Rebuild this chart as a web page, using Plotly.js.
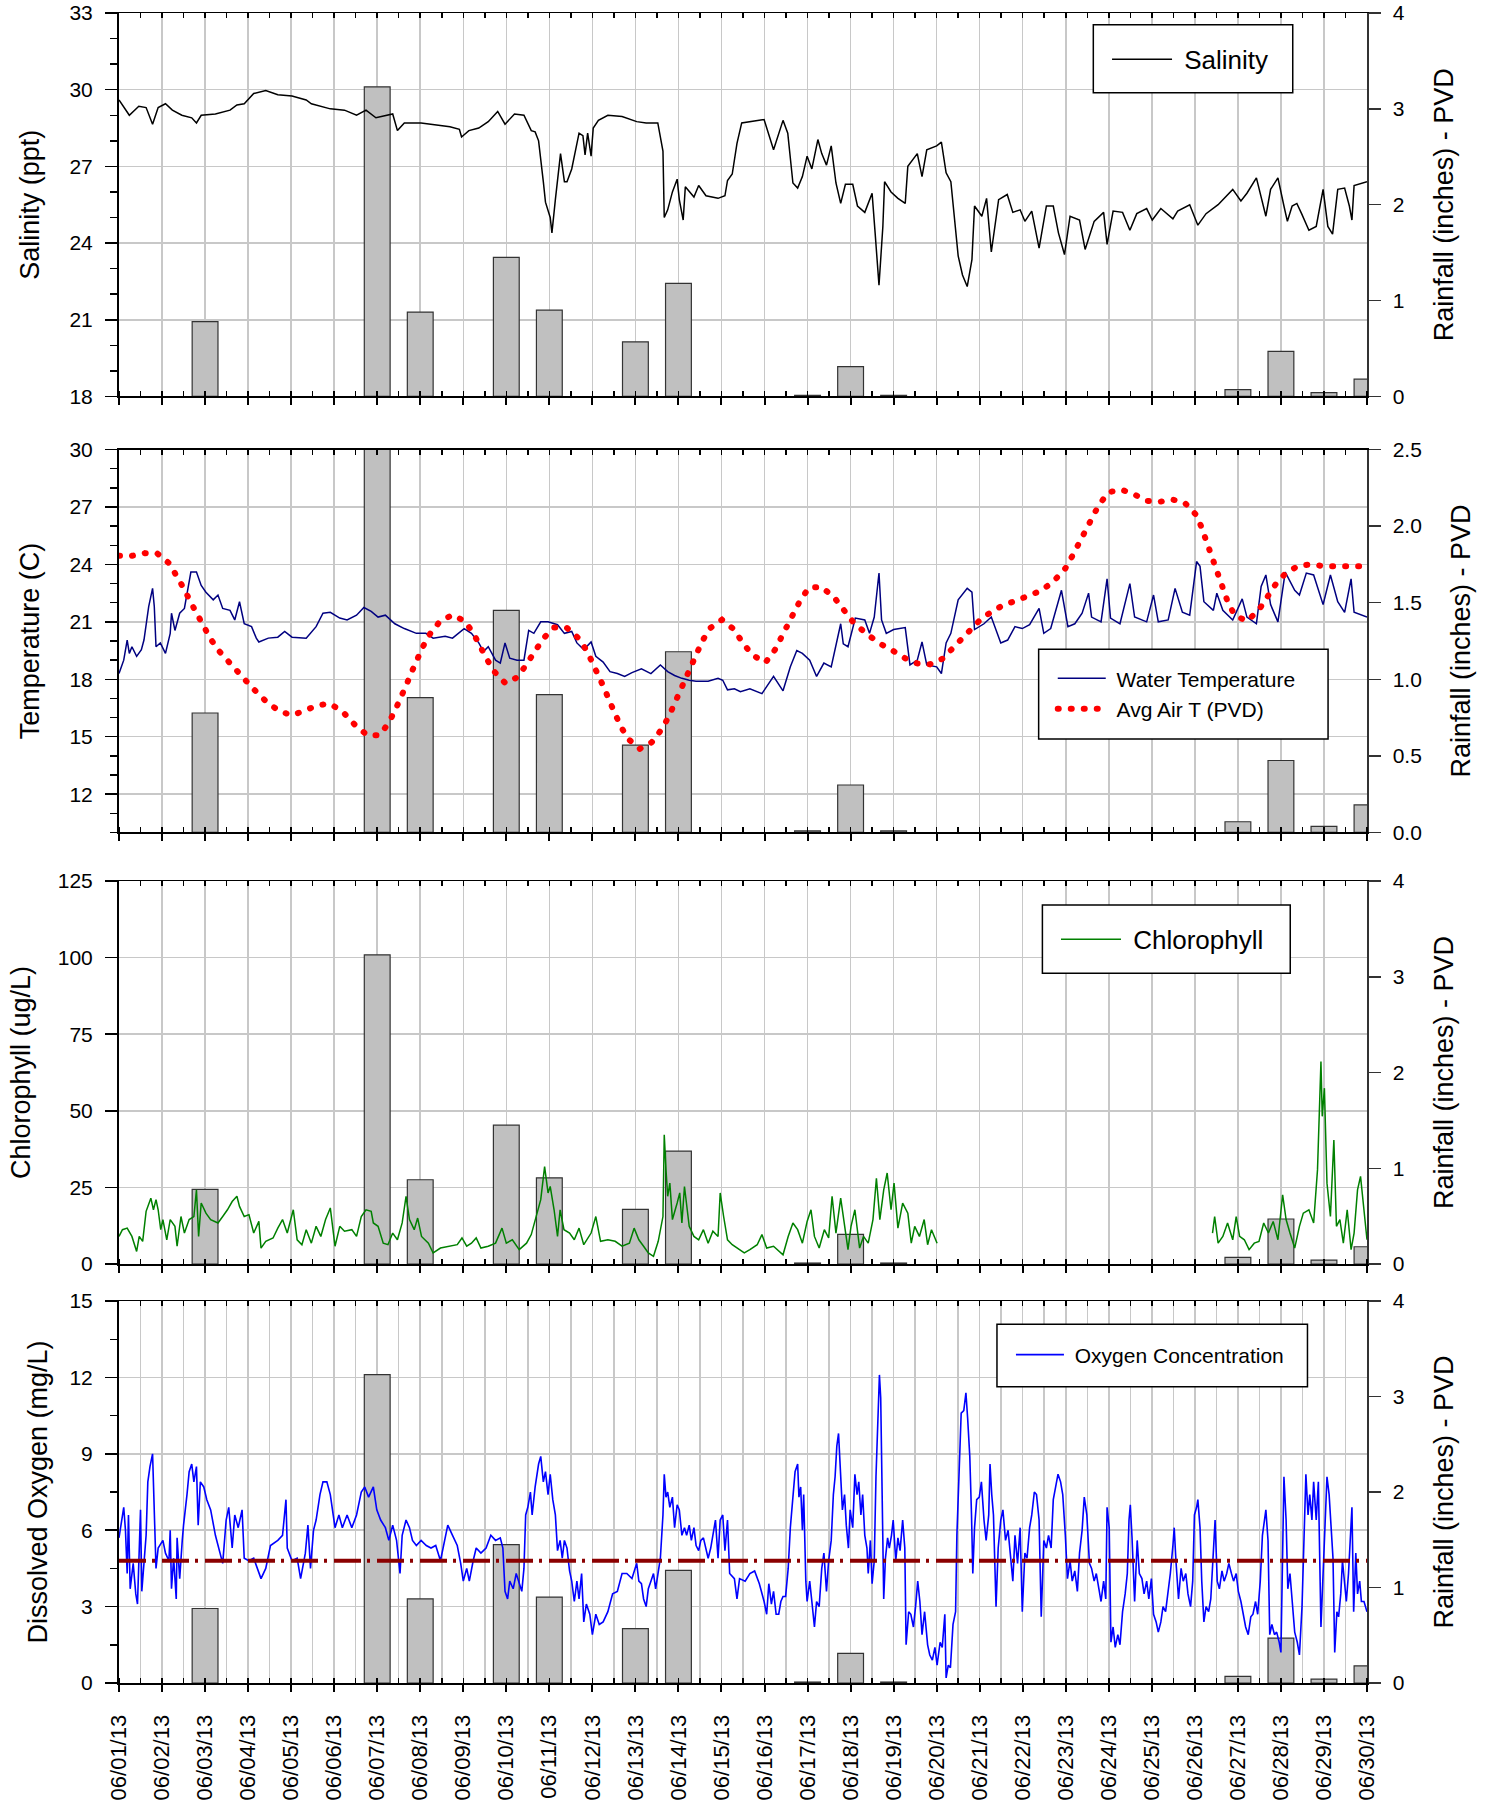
<!DOCTYPE html>
<html>
<head>
<meta charset="utf-8">
<script src="https://cdn.plot.ly/plotly-3.0.1.min.js"></script>
<style>
html,body{margin:0;padding:0;background:#fff;}
#chart{width:1489px;height:1807px;}
path.js-line[style*="rgb(255, 0, 0)"]{stroke-linecap:round !important;}
</style>
</head>
<body>
<div id="chart"></div>
<script>
// ---------------- DATA (days counted from 06/01/2013 00:00) ----------------
const rainDates = ['2013-06-03','2013-06-07','2013-06-08','2013-06-10','2013-06-11','2013-06-13','2013-06-14','2013-06-17','2013-06-18','2013-06-19','2013-06-27','2013-06-28','2013-06-29','2013-06-30'];
const rainInches = [0.78,3.23,0.88,1.45,0.90,0.57,1.18,0.01,0.31,0.01,0.07,0.47,0.04,0.18];

const salDay = [0,0.24,0.46,0.63,0.78,0.91,1.08,1.24,1.46,1.69,1.80,1.91,2.24,2.58,2.74,2.91,3.13,3.41,3.69,4.02,4.35,4.47,4.91,5.24,5.52,5.74,5.97,6.13,6.36,6.47,6.63,7.02,7.25,7.69,7.91,7.96,8.13,8.36,8.58,8.80,8.97,9.19,9.41,9.58,9.67,9.75,9.86,9.91,10.02,10.06,10.14,10.22,10.26,10.35,10.41,10.52,10.69,10.78,10.83,10.89,10.97,11.02,11.14,11.36,11.69,12.03,12.25,12.52,12.64,12.67,12.75,12.86,12.97,13.02,13.11,13.16,13.36,13.47,13.64,13.92,14.08,14.14,14.25,14.36,14.47,14.99,15.21,15.43,15.54,15.66,15.77,15.88,15.99,16.10,16.24,16.33,16.44,16.55,16.66,16.77,16.88,17.05,17.16,17.33,17.50,17.57,17.66,17.75,17.79,17.94,18.10,18.27,18.33,18.55,18.66,18.77,19.00,19.11,19.22,19.33,19.50,19.60,19.71,19.82,19.88,20.05,20.16,20.27,20.44,20.64,20.77,20.94,21.05,21.21,21.38,21.55,21.71,21.83,21.97,22.10,22.32,22.45,22.66,22.88,22.96,23.10,23.32,23.49,23.65,23.88,24.01,24.21,24.49,24.60,24.88,25.07,25.26,25.54,25.88,26.07,26.21,26.43,26.65,26.76,26.93,27.07,27.15,27.26,27.37,27.48,27.65,27.82,27.98,28.09,28.20,28.32,28.48,28.59,28.65,28.70,28.87,29.00];
const salPpt = [29.6,29.0,29.35,29.3,28.65,29.3,29.45,29.2,29.0,28.9,28.7,29.0,29.05,29.2,29.4,29.45,29.85,29.97,29.8,29.75,29.6,29.45,29.25,29.2,29.0,29.2,28.9,28.95,29.05,28.4,28.7,28.7,28.65,28.55,28.45,28.15,28.4,28.5,28.75,29.15,28.65,29.05,29.0,28.4,28.35,28.0,26.4,25.6,25.0,24.4,25.7,27.1,27.5,26.4,26.4,26.9,28.3,28.2,27.45,28.3,27.4,28.5,28.8,29.0,28.95,28.75,28.7,28.7,27.6,25.0,25.3,26.0,26.5,25.7,24.9,26.2,25.8,26.25,25.85,25.75,25.85,26.45,26.7,27.9,28.7,28.83,27.65,28.8,28.3,26.35,26.15,26.6,27.4,26.9,28.05,27.5,27.05,27.8,26.35,25.55,26.3,26.3,25.45,25.2,25.95,24.4,22.35,24.65,26.4,26.0,25.75,25.55,27.0,27.5,26.6,27.65,27.8,27.95,26.75,26.4,23.5,22.75,22.3,23.35,25.45,25.05,25.75,23.65,25.7,25.9,25.2,25.3,24.85,25.25,23.8,25.45,25.45,24.4,23.55,25.05,24.9,23.75,24.85,25.2,23.95,25.25,25.2,24.5,25.15,25.35,24.9,25.35,24.95,25.25,25.5,24.7,25.15,25.5,26.1,25.65,25.95,26.55,25.05,26.1,26.55,25.45,24.85,25.45,25.55,25.15,24.5,24.65,26.1,24.65,24.35,26.1,26.15,25.45,24.9,26.25,26.35,26.4];

const wtDay = [0,0.11,0.19,0.24,0.30,0.41,0.52,0.58,0.69,0.78,0.82,0.86,0.96,1.08,1.19,1.22,1.30,1.41,1.52,1.58,1.67,1.80,1.91,2.02,2.19,2.30,2.41,2.58,2.69,2.80,2.91,3.08,3.19,3.25,3.47,3.69,3.85,4.02,4.35,4.58,4.74,4.91,5.13,5.30,5.52,5.69,5.86,6.02,6.19,6.41,6.63,6.91,7.13,7.30,7.58,7.75,8.02,8.19,8.36,8.47,8.58,8.75,8.86,8.97,9.08,9.25,9.41,9.52,9.64,9.80,9.97,10.19,10.35,10.52,10.64,10.80,10.97,11.08,11.25,11.41,11.58,11.75,11.92,12.14,12.36,12.58,12.75,12.91,13.08,13.25,13.41,13.69,13.92,14.03,14.14,14.30,14.44,14.66,14.94,15.21,15.43,15.60,15.75,15.88,16.05,16.21,16.38,16.55,16.66,16.77,16.83,16.94,17.11,17.33,17.44,17.55,17.66,17.72,17.83,18.00,18.27,18.38,18.55,18.66,18.77,19.00,19.11,19.22,19.33,19.50,19.71,19.82,19.88,20.10,20.27,20.49,20.65,20.82,20.99,21.16,21.38,21.49,21.65,21.77,21.90,22.05,22.21,22.38,22.53,22.60,22.82,22.96,23.04,23.26,23.49,23.60,23.88,24.04,24.15,24.38,24.54,24.71,24.88,25.04,25.12,25.21,25.43,25.51,25.65,25.88,26.10,26.21,26.43,26.54,26.65,26.76,26.93,27.10,27.32,27.43,27.59,27.76,27.98,28.15,28.32,28.48,28.63,28.70,29.00];
const wtC = [18.3,19.0,20.05,19.35,19.7,19.2,19.55,20.05,21.8,22.75,21.8,19.7,19.9,19.35,20.4,21.45,20.55,21.45,21.7,22.5,23.6,23.6,22.9,22.55,22.15,22.4,21.7,21.6,21.1,22.05,20.9,20.75,20.15,19.95,20.15,20.2,20.5,20.2,20.15,20.75,21.45,21.5,21.2,21.1,21.35,21.75,21.55,21.25,21.35,20.9,20.65,20.4,20.4,20.15,20.25,20.15,20.65,20.4,19.9,19.45,19.7,19.0,18.85,19.9,19.1,19.0,19.0,20.55,20.4,21.0,21.0,20.85,20.4,20.5,19.9,19.55,19.95,19.2,18.9,18.4,18.3,18.15,18.35,18.55,18.3,18.75,18.4,18.2,18.05,17.95,17.9,17.9,18.05,17.95,17.45,17.5,17.35,17.5,17.25,18.15,17.4,18.65,19.5,19.35,19.0,18.15,18.85,18.65,19.7,20.9,19.85,19.7,21.2,21.1,20.4,21.25,23.55,21.1,20.4,20.6,20.7,18.75,19.0,19.95,18.75,18.65,18.3,19.9,20.4,22.15,22.75,22.55,20.6,20.9,21.25,19.9,20.05,20.75,20.65,20.85,21.7,20.4,20.65,21.6,22.65,20.75,20.9,21.45,22.5,21.25,21.0,23.25,21.2,20.9,23.0,21.25,21.0,22.4,21.0,21.1,22.75,21.5,21.35,24.15,23.9,22.05,21.6,22.5,21.6,21.1,22.2,21.25,20.9,22.85,23.45,21.9,21.0,23.6,22.65,22.4,23.55,23.45,21.9,23.45,22.05,21.5,23.25,21.5,21.25];

const airDay = [0,0.30,0.60,0.89,1.17,1.35,1.51,1.65,1.80,1.96,2.13,2.34,2.59,2.87,3.14,3.43,3.73,4.02,4.32,4.61,4.90,5.20,5.47,5.77,6.06,6.27,6.42,6.56,6.68,6.80,6.92,7.06,7.23,7.46,7.75,8.04,8.24,8.39,8.55,8.73,8.98,9.27,9.48,9.66,9.85,10.10,10.40,10.67,10.87,11.02,11.16,11.28,11.40,11.54,11.66,11.84,12.10,12.38,12.60,12.77,12.90,13.03,13.15,13.27,13.42,13.55,13.73,14.01,14.30,14.48,14.72,15.02,15.24,15.39,15.54,15.67,15.83,16.03,16.32,16.61,16.84,17.07,17.37,17.67,17.97,18.26,18.55,18.84,19.14,19.41,19.69,19.98,20.27,20.56,20.86,21.15,21.44,21.73,21.99,22.16,22.31,22.45,22.61,22.77,23.00,23.29,23.58,23.88,24.18,24.48,24.76,25.02,25.15,25.26,25.37,25.46,25.55,25.66,25.77,25.93,26.21,26.48,26.68,26.87,27.12,27.41,27.70,27.99,28.28,28.58,28.87,29.00];
const airC = [24.45,24.45,24.59,24.57,24.05,23.41,22.73,22.09,21.43,20.75,20.10,19.44,18.77,18.12,17.46,16.82,16.33,16.12,16.37,16.64,16.73,16.30,15.65,15.08,15.08,15.74,16.40,17.06,17.72,18.38,19.04,19.70,20.38,21.03,21.36,21.03,20.38,19.70,19.04,18.38,17.79,18.12,18.78,19.44,20.10,20.70,20.70,20.16,19.50,18.83,18.17,17.51,16.85,16.19,15.53,14.87,14.37,14.71,15.36,16.03,16.70,17.36,18.02,18.68,19.32,19.98,20.66,21.11,20.59,19.94,19.27,18.87,19.53,20.16,20.82,21.48,22.12,22.78,22.83,22.30,21.62,20.96,20.38,19.88,19.51,19.11,18.83,18.78,19.08,19.72,20.38,21.03,21.53,21.88,22.12,22.35,22.64,23.15,23.79,24.47,25.13,25.79,26.45,27.11,27.77,27.91,27.67,27.32,27.27,27.39,27.23,26.61,25.97,25.30,24.64,23.98,23.32,22.66,22.00,21.34,21.04,21.60,22.28,22.94,23.57,23.93,24.00,23.91,23.90,23.90,23.90,23.90];

const chlDay = [0,0.08,0.19,0.30,0.41,0.47,0.55,0.63,0.74,0.80,0.86,0.91,0.97,1.02,1.11,1.19,1.30,1.35,1.44,1.52,1.63,1.74,1.80,1.85,1.91,2.02,2.13,2.30,2.41,2.52,2.63,2.74,2.80,2.91,3.02,3.13,3.25,3.30,3.41,3.58,3.69,3.80,3.91,4.05,4.14,4.25,4.35,4.47,4.58,4.69,4.80,4.91,5.02,5.13,5.24,5.41,5.52,5.63,5.74,5.86,5.91,6.02,6.14,6.25,6.36,6.47,6.58,6.67,6.75,6.86,6.94,7.03,7.19,7.30,7.47,7.69,7.86,7.97,8.08,8.19,8.30,8.41,8.58,8.75,8.90,9.00,9.14,9.30,9.47,9.58,9.69,9.80,9.89,9.97,10.02,10.11,10.19,10.25,10.34,10.47,10.58,10.69,10.80,10.97,11.08,11.19,11.36,11.53,11.69,11.86,11.97,12.08,12.19,12.30,12.42,12.53,12.64,12.67,12.71,12.75,12.80,12.86,12.97,13.03,13.08,13.14,13.25,13.36,13.47,13.58,13.69,13.80,13.92,13.97,14.05,14.14,14.25,14.42,14.53,14.66,14.83,14.94,15.05,15.21,15.43,15.55,15.66,15.77,15.88,15.99,16.08,16.16,16.27,16.39,16.49,16.57,16.66,16.77,16.86,16.94,17.01,17.10,17.21,17.30,17.41,17.52,17.60,17.68,17.77,17.85,17.94,18.01,18.10,18.21,18.33,18.41,18.49,18.60,18.71,18.79,18.88,18.99,19.01,22.00,25.41,25.46,25.54,25.65,25.76,25.88,25.96,26.04,26.15,26.26,26.38,26.49,26.60,26.71,26.82,26.93,27.04,27.12,27.21,27.32,27.43,27.52,27.65,27.76,27.85,27.93,27.96,28.01,28.07,28.15,28.23,28.29,28.37,28.45,28.54,28.63,28.70,28.78,28.85,28.93,29.00];
const chlUgL = [9.0,11.2,11.7,9.0,4.1,9.0,7.4,17.2,21.5,17.7,21.0,17.7,11.2,14.5,7.9,14.5,12.3,5.8,15.5,10.1,14.5,15.5,24.2,9.0,19.9,16.6,14.5,13.4,15.5,17.7,20.4,22.1,18.8,15.5,16.1,10.1,13.9,5.2,7.4,8.5,11.7,14.5,10.1,17.7,7.9,6.3,11.2,6.8,12.3,9.0,14.5,18.3,5.8,12.3,10.7,11.2,9.0,15.5,17.7,17.2,13.4,12.3,6.8,6.3,10.1,7.9,13.4,22.1,14.5,11.2,15.0,9.0,6.8,3.6,5.2,5.8,6.3,8.5,5.8,6.8,8.5,5.2,5.8,6.8,11.7,6.8,7.9,4.7,6.8,9.6,15.0,21.0,31.8,23.2,25.3,17.7,9.0,17.7,11.2,10.1,7.9,11.7,6.3,10.1,15.5,7.4,7.9,7.4,5.8,6.8,11.7,7.9,5.8,3.6,2.5,7.4,15.5,42.2,30.8,22.1,26.4,14.5,19.9,23.2,13.4,25.3,12.3,9.0,7.9,11.2,6.8,10.7,9.0,23.2,15.5,7.9,6.3,4.7,3.6,4.7,6.3,9.6,5.2,5.8,3.0,9.0,13.4,11.2,6.8,13.9,17.7,9.0,5.2,11.2,8.5,22.1,10.1,21.5,13.4,4.7,12.3,17.7,5.2,9.0,6.8,14.5,28.0,14.5,24.2,29.7,17.7,26.4,11.7,19.9,16.6,6.8,12.3,9.0,14.5,6.3,11.2,7.9,6.8,null,10.1,15.5,6.8,9.0,13.4,7.9,15.5,9.0,7.9,4.7,6.8,7.4,13.4,10.1,13.9,7.9,22.6,14.5,10.1,5.2,12.3,16.6,17.7,13.4,30.8,66.1,48.2,57.4,26.4,15.5,40.5,12.3,14.5,6.8,17.7,4.7,10.1,24.2,28.6,17.7,7.9];

const doDay = [0,0.04,0.11,0.15,0.19,0.22,0.26,0.33,0.39,0.43,0.46,0.50,0.53,0.58,0.63,0.67,0.72,0.78,0.82,0.86,0.91,1.02,1.08,1.16,1.19,1.22,1.27,1.33,1.35,1.41,1.47,1.50,1.58,1.63,1.69,1.74,1.80,1.84,1.89,1.97,2.04,2.13,2.24,2.35,2.41,2.49,2.55,2.63,2.69,2.77,2.86,2.91,3.02,3.13,3.30,3.41,3.52,3.69,3.80,3.88,3.91,4.02,4.14,4.22,4.33,4.39,4.45,4.52,4.58,4.67,4.74,4.83,4.91,5.02,5.11,5.19,5.30,5.41,5.52,5.63,5.71,5.80,5.91,5.99,6.08,6.19,6.27,6.36,6.45,6.53,6.58,6.67,6.75,6.82,6.91,7.02,7.14,7.25,7.36,7.47,7.58,7.64,7.75,7.86,7.94,8.00,8.08,8.14,8.23,8.30,8.41,8.53,8.64,8.75,8.86,8.92,8.97,9.03,9.08,9.16,9.23,9.30,9.36,9.41,9.45,9.50,9.56,9.60,9.67,9.75,9.80,9.86,9.91,9.97,10.02,10.08,10.14,10.19,10.25,10.30,10.35,10.41,10.47,10.52,10.58,10.64,10.69,10.75,10.80,10.86,10.94,11.00,11.08,11.16,11.25,11.36,11.47,11.58,11.69,11.80,11.92,12.03,12.08,12.14,12.19,12.25,12.30,12.36,12.42,12.47,12.53,12.58,12.64,12.67,12.71,12.75,12.80,12.86,12.91,12.97,13.02,13.08,13.14,13.19,13.25,13.30,13.36,13.41,13.47,13.52,13.58,13.64,13.69,13.75,13.80,13.86,13.92,13.97,14.03,14.08,14.14,14.19,14.30,14.36,14.42,14.55,14.66,14.77,14.88,14.99,15.05,15.10,15.16,15.21,15.27,15.33,15.38,15.43,15.49,15.55,15.60,15.66,15.71,15.77,15.80,15.84,15.88,15.91,15.96,15.99,16.05,16.10,16.16,16.21,16.27,16.33,16.38,16.44,16.49,16.55,16.60,16.64,16.68,16.72,16.77,16.81,16.86,16.90,16.95,16.99,17.05,17.10,17.15,17.19,17.24,17.28,17.33,17.38,17.41,17.46,17.50,17.55,17.59,17.64,17.67,17.70,17.74,17.77,17.81,17.86,17.90,17.95,17.99,18.05,18.10,18.15,18.21,18.26,18.29,18.35,18.40,18.46,18.51,18.56,18.61,18.66,18.72,18.79,18.84,18.90,18.96,19.01,19.08,19.13,19.19,19.22,19.27,19.32,19.38,19.44,19.47,19.52,19.57,19.63,19.68,19.72,19.77,19.81,19.84,19.88,19.93,19.99,20.04,20.10,20.15,20.21,20.24,20.28,20.32,20.38,20.43,20.49,20.54,20.60,20.66,20.71,20.77,20.82,20.88,20.94,20.99,21.05,21.10,21.16,21.21,21.27,21.32,21.38,21.43,21.49,21.55,21.60,21.66,21.71,21.77,21.82,21.88,21.93,21.99,22.04,22.10,22.15,22.21,22.27,22.32,22.38,22.43,22.49,22.55,22.60,22.66,22.71,22.77,22.82,22.88,22.93,22.96,23.01,23.05,23.10,23.15,23.21,23.26,23.32,23.38,23.43,23.47,23.50,23.54,23.60,23.66,23.71,23.77,23.82,23.88,23.93,23.99,24.04,24.10,24.15,24.21,24.26,24.32,24.38,24.43,24.49,24.52,24.56,24.62,24.68,24.73,24.79,24.84,24.90,24.95,24.99,25.04,25.07,25.12,25.16,25.21,25.26,25.32,25.37,25.43,25.47,25.52,25.57,25.63,25.68,25.74,25.79,25.85,25.90,25.96,26.01,26.07,26.13,26.18,26.24,26.30,26.35,26.41,26.46,26.52,26.57,26.62,26.65,26.70,26.74,26.79,26.85,26.90,26.96,27.00,27.04,27.07,27.12,27.16,27.21,27.27,27.32,27.38,27.43,27.49,27.54,27.58,27.63,27.67,27.72,27.76,27.82,27.87,27.93,27.98,28.04,28.07,28.12,28.16,28.21,28.25,28.30,28.34,28.39,28.43,28.48,28.52,28.57,28.61,28.65,28.69,28.74,28.78,28.83,28.87,28.93,29.00];
const doMgL = [5.7,6.1,6.9,6.0,4.3,6.6,3.7,4.7,3.5,3.1,4.5,6.8,3.6,4.7,5.8,7.9,8.5,9.0,6.6,4.5,5.3,5.6,5.1,4.8,6.0,3.7,4.9,3.3,5.7,4.1,5.6,6.2,7.4,8.3,8.6,7.9,8.5,6.2,7.9,7.7,7.2,6.8,5.8,5.1,4.7,6.4,6.9,5.3,6.6,6.1,6.8,4.9,4.8,4.9,4.1,4.5,5.4,5.6,5.8,7.2,5.3,4.8,4.9,4.1,5.1,6.2,4.5,6.0,6.4,7.4,7.9,7.9,7.4,6.1,6.6,6.1,6.6,6.1,6.6,7.5,7.7,7.3,7.7,6.8,6.4,6.1,5.6,6.2,5.6,4.3,5.8,6.4,6.1,5.6,5.4,5.6,5.4,5.3,5.4,4.8,5.8,6.2,5.8,5.4,4.7,4.0,4.5,4.0,4.8,5.3,5.1,5.3,5.8,5.6,5.7,5.3,3.6,3.3,4.0,3.7,4.3,3.9,3.6,4.5,6.6,6.9,7.5,6.6,7.7,8.6,8.9,7.9,8.3,7.4,8.2,7.2,6.6,5.2,5.6,4.9,5.6,5.3,4.4,4.0,3.2,4.0,3.3,4.3,2.4,3.1,2.7,1.9,2.7,2.3,2.4,2.8,3.5,3.6,4.3,4.3,4.1,4.7,4.0,3.9,3.3,3.0,3.7,4.0,4.3,3.7,4.4,4.9,6.6,8.2,7.3,7.5,6.9,7.3,6.1,7.0,6.8,5.8,6.1,5.8,6.2,5.6,6.1,5.4,5.2,5.6,5.7,5.3,4.9,5.3,5.8,6.4,4.9,6.4,6.6,5.2,6.4,4.3,4.1,3.3,4.1,4.0,4.3,4.4,3.9,3.2,2.7,3.9,3.1,3.6,2.7,2.7,3.2,3.4,3.4,4.5,6.1,7.4,8.3,8.6,7.3,7.7,6.0,7.4,4.0,3.2,4.0,3.2,2.2,3.2,3.0,4.5,5.1,3.6,4.8,5.6,7.4,8.1,9.3,9.8,7.8,6.8,7.4,6.2,5.3,6.8,6.1,8.2,7.4,7.9,6.6,7.4,5.8,5.3,4.3,5.6,3.9,4.8,8.1,10.6,12.1,11.2,6.5,3.3,4.9,5.7,5.3,5.8,6.4,4.8,5.7,5.2,6.4,5.3,1.5,2.8,2.7,2.2,3.0,4.0,3.2,1.9,2.8,1.5,1.1,0.9,1.4,0.7,1.6,1.4,2.7,0.2,0.7,0.6,2.3,2.8,5.8,8.6,10.6,10.7,11.4,10.4,8.9,6.6,4.3,6.1,7.2,7.3,7.9,6.4,5.6,6.6,8.6,7.4,6.6,3.0,5.3,6.4,6.8,5.6,6.0,5.1,4.0,5.8,4.7,6.1,2.8,5.1,4.9,6.1,6.6,7.5,7.4,6.4,2.6,5.6,5.3,5.8,5.3,7.2,7.7,8.2,7.9,7.4,5.8,4.1,4.8,4.0,4.4,3.6,5.1,6.0,7.3,6.6,4.7,4.5,4.0,4.3,3.7,3.2,4.0,3.3,6.9,6.1,1.6,2.2,1.4,1.9,1.5,2.8,3.5,4.3,6.4,7.0,5.7,3.2,5.6,4.3,4.1,3.5,4.0,3.3,4.1,2.7,2.4,2.0,2.4,3.0,2.8,3.6,4.3,5.4,6.1,4.8,3.3,4.5,4.0,4.3,3.5,3.0,4.0,6.6,6.9,7.2,6.1,4.0,2.4,3.0,2.8,3.3,5.2,6.4,4.0,3.7,4.4,4.0,4.3,4.7,4.3,4.0,4.3,3.6,3.2,2.7,2.2,1.9,2.6,2.7,3.2,2.7,4.0,5.8,6.5,6.8,5.6,1.9,2.3,1.9,2.0,1.6,1.2,5.3,8.1,6.4,3.7,4.3,3.2,2.0,1.6,1.1,3.0,5.8,8.2,6.6,7.4,6.4,7.9,6.4,7.9,2.2,4.3,7.4,8.1,7.4,6.4,4.9,1.2,2.8,2.6,3.5,4.8,4.0,3.2,4.3,5.8,6.9,2.8,5.1,3.5,4.0,3.2,3.2,2.8];
const doLimit = 4.8;

// ---------------- helpers ----------------
const DAY = 86400000;
const T0 = Date.UTC(2013, 5, 1);
function toDate(d){ return new Date(T0 + Math.round(d * DAY)).toISOString().slice(0,19).replace('T',' '); }
const xRange = ['2013-06-01 00:00:00', '2013-06-30 00:00:00'];

const FONT = 'Liberation Sans, Arial, Helvetica, sans-serif';
const GRID = '#c8c8c8';
const NB = '\u00a0'; // small gap between legend key and legend text

const panels = [
  {dom:[0.7704,1.0],    left:{range:[18,33], dtick:3, minor:1, title:'Salinity (ppt)', standoff:22},          right:{range:[0,4], dtick:1, fmt:''}},
  {dom:[0.5093,0.7386], left:{range:[10,30], dtick:3, minor:1, title:'Temperature (C)', standoff:22},         right:{range:[0,2.5], dtick:0.5, fmt:'.1f'}},
  {dom:[0.2509,0.4802], left:{range:[0,125], dtick:25, minor:0, title:'Chlorophyll (ug/L)', standoff:19},      right:{range:[0,4], dtick:1, fmt:''}},
  {dom:[0.0,0.2287],    left:{range:[0,15], dtick:3, minor:1.5, title:'Dissolved Oxygen (mg/L)', standoff:14}, right:{range:[0,4], dtick:1, fmt:''}}
];

const layout = {
  width:1489, height:1807,
  margin:{l:119, r:122, t:13, b:124},
  paper_bgcolor:'#ffffff', plot_bgcolor:'#ffffff',
  font:{family:FONT, color:'#000000', size:21},
  hovermode:false,
  shapes:[],
  barmode:'overlay'
};

function axId(n){ return n === 1 ? '' : String(n); }

panels.forEach((p, i) => {
  const nb = 2*i + 1, no = 2*i + 2;
  layout['xaxis' + axId(nb)] = {
    type:'date', range:xRange, domain:[0,1], anchor:'y' + axId(nb),
    showline:true, linecolor:'#000', linewidth:2,
    ticks:'outside', ticklen:7, tickwidth:2, tickcolor:'#000',
    dtick:DAY, tick0:'2013-06-01',
    showgrid:true, gridcolor:GRID, gridwidth:1.5, zeroline:false,
    showticklabels: i === 3, tickformat:'%m/%d/%y', tickangle:-90,
    ticklabelstandoff:14,
    tickfont:{size:22, family:FONT},
    minor:{dtick:DAY/2, ticks:'inside', ticklen:5, tickwidth:1.5, tickcolor:'#000', showgrid: i === 3, gridcolor:GRID, gridwidth:1.5}
  };
  layout['xaxis' + axId(no)] = {
    type:'date', range:xRange, overlaying:'x' + axId(nb), anchor:'y' + axId(nb), side:'top',
    showline:true, linecolor:'#000', linewidth:1.5,
    ticks:'inside', ticklen:5, tickwidth:1.5, tickcolor:'#000',
    dtick:DAY/2, tick0:'2013-06-01', showticklabels:false, showgrid:false, zeroline:false
  };
  layout['yaxis' + axId(nb)] = {
    domain:p.dom, anchor:'x' + axId(nb), side:'right', range:p.right.range,
    dtick:p.right.dtick, tick0:0, tickformat:p.right.fmt,
    showline:true, linecolor:'#333', linewidth:1.5,
    ticks:'outside', ticklen:12, tickwidth:1.5, tickcolor:'#333',
    ticklabelstandoff:8,
    showgrid:false, zeroline:false, tickfont:{size:21, family:FONT},
    title:{text:'Rainfall (inches) - PVD', font:{size:27, family:FONT}, standoff:30}
  };
  const ly = {
    overlaying:'y' + axId(nb), anchor:'x' + axId(nb), side:'left', range:p.left.range,
    dtick:p.left.dtick, tick0:0,
    showline:true, linecolor:'#000', linewidth:2,
    ticks:'outside', ticklen:12, tickwidth:1.5, tickcolor:'#000',
    ticklabelstandoff:8,
    showgrid:true, gridcolor:GRID, gridwidth:1.5, zeroline:false,
    tickfont:{size:21, family:FONT},
    title:{text:p.left.title, font:{size:27, family:FONT}, standoff:p.left.standoff}
  };
  if (p.left.minor) ly.minor = {dtick:p.left.minor, ticks:'outside', ticklen:7, tickwidth:1.5, tickcolor:'#000', showgrid:false};
  layout['yaxis' + axId(no)] = ly;
});

const legendBase = {xanchor:'left', yanchor:'middle', bgcolor:'rgba(0,0,0,0)', borderwidth:0};
layout.legend  = Object.assign({}, legendBase, {x:0.7917, y:0.9723, font:{size:26, family:FONT}, itemwidth:60});
layout.legend2 = Object.assign({}, legendBase, {x:0.7482, y:0.5924, font:{size:21, family:FONT}, itemwidth:48});
layout.legend3 = Object.assign({}, legendBase, {x:0.7508, y:0.4453, font:{size:26, family:FONT}, itemwidth:60});
layout.legend4 = Object.assign({}, legendBase, {x:0.7147, y:0.1964, font:{size:21, family:FONT}, itemwidth:48});

[[0.7807,0.9405,0.9523,0.9930],[0.7369,0.9688,0.5653,0.6190],[0.7399,0.9385,0.4250,0.4659],[0.7035,0.9523,0.1774,0.2148]].forEach(b => {
  layout.shapes.push({type:'rect', xref:'paper', yref:'paper', x0:b[0], x1:b[1], y0:b[2], y1:b[3],
    fillcolor:'#ffffff', line:{color:'#000', width:1.5}, layer:'above'});
});

// ---------------- traces ----------------
const traces = [];
const rainX = rainDates.map(s => s + ' 00:00:00');
panels.forEach((p, i) => {
  const nb = 2*i + 1;
  traces.push({type:'bar', x:rainX, y:rainInches, xaxis:'x' + axId(nb), yaxis:'y' + axId(nb),
    width:0.6*DAY, marker:{color:'#c0c0c0', line:{color:'#333', width:1.2}}, showlegend:false, hoverinfo:'skip'});
});
traces.push({type:'scatter', mode:'lines', name:NB + 'Salinity', x:salDay.map(toDate), y:salPpt,
  xaxis:'x2', yaxis:'y2', line:{color:'#000000', width:1.5}, legend:'legend'});
traces.push({type:'scatter', mode:'lines', name:NB + 'Water Temperature', x:wtDay.map(toDate), y:wtC,
  xaxis:'x4', yaxis:'y4', line:{color:'#000080', width:1.5}, legend:'legend2'});
traces.push({type:'scatter', mode:'lines', name:NB + 'Avg Air T (PVD)', x:airDay.map(toDate), y:airC,
  xaxis:'x4', yaxis:'y4', line:{color:'#ff0000', width:6, dash:'1px,12px'}, legend:'legend2'});
traces.push({type:'scatter', mode:'lines', name:NB + 'Chlorophyll', x:chlDay.map(toDate), y:chlUgL,
  xaxis:'x6', yaxis:'y6', line:{color:'#008000', width:1.5}, connectgaps:false, legend:'legend3'});
traces.push({type:'scatter', mode:'lines', name:NB + 'Oxygen Concentration', x:doDay.map(toDate), y:doMgL,
  xaxis:'x8', yaxis:'y8', line:{color:'#0000ff', width:1.6}, legend:'legend4'});
traces.push({type:'scatter', mode:'lines', name:'DO limit', x:xRange, y:[doLimit, doLimit],
  xaxis:'x8', yaxis:'y8', line:{color:'#8b0000', width:4, dash:'27px,6px,3px,7px'}, showlegend:false});

Plotly.newPlot('chart', traces, layout, {staticPlot:true, displayModeBar:false});
</script>
</body>
</html>
